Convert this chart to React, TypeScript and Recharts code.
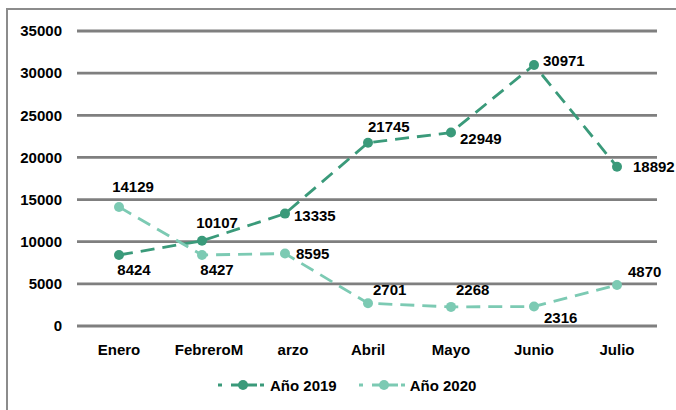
import React from 'react';
import { LineChart, Line, XAxis, YAxis, CartesianGrid, Legend, LabelList } from 'recharts';

const months = ['Enero', 'FebreroM', 'arzo', 'Abril', 'Mayo', 'Junio', 'Julio'];
const y2019 = [8424, 10107, 13335, 21745, 22949, 30971, 18892];
const y2020 = [14129, 8427, 8595, 2701, 2268, 2316, 4870];
const yTicks = [0, 5000, 10000, 15000, 20000, 25000, 30000, 35000];
const seriesNames = ['Año 2019', 'Año 2020'];

const data = months.map((m, i) => ({ month: m, a: y2019[i], b: y2020[i] }));

const C2019 = '#3a9a7a';
const C2020 = '#7ccab3';
const FONT = '"Liberation Sans", Arial, Helvetica, sans-serif';

// label placement style: [dx, dy, anchor]
const place2019: [number, number, string][] = [
  [15, 15, 'middle'], [15, -18, 'middle'], [9, 2, 'start'], [0, -16, 'start'],
  [9, 6, 'start'], [9, -4, 'start'], [16, 0, 'start'],
];
const place2020: [number, number, string][] = [
  [14, -20, 'middle'], [15, 15, 'middle'], [11, 0, 'start'], [5, -14, 'start'],
  [5, -17, 'start'], [10, 11, 'start'], [11, -13, 'start'],
];
const tickShift = [0, 7, 8, 0, 0, 0, 0];

const makeLabel = (place: [number, number, string][]) => (props: any) => {
  const { x, y, value, index } = props;
  const p = place[index] || [0, -12, 'middle'];
  return (
    <text x={x + p[0]} y={y + p[1]} textAnchor={p[2] as any} dominantBaseline="central"
      fontFamily={FONT} fontSize={15} fontWeight={700} fill="#000">
      {value}
    </text>
  );
};

const XTick = (props: any) => {
  const { x, y, payload, index } = props;
  return (
    <text x={x + (tickShift[index] || 0)} y={y + 23} textAnchor="middle" dominantBaseline="central"
      fontFamily={FONT} fontSize={15} fontWeight={700} fill="#000">
      {payload.value}
    </text>
  );
};

const LegendIcon = ({ color }: { color: string }) => (
  <svg width={46} height={12} style={{ display: 'block' }}>
    <line x1={0} y1={6} x2={46} y2={6} stroke={color} strokeWidth={3} strokeDasharray="4 9 26 3 4" />
    <circle cx={25} cy={6} r={5} fill={color} />
  </svg>
);

const renderLegend = () => (
  <div style={{ display: 'flex', alignItems: 'center', height: 24, paddingLeft: 218, fontFamily: FONT, fontSize: 15, fontWeight: 700, color: '#000' }}>
    <LegendIcon color={C2019} />
    <span style={{ marginLeft: 6, marginRight: 22 }}>{seriesNames[0]}</span>
    <LegendIcon color={C2020} />
    <span style={{ marginLeft: 5 }}>{seriesNames[1]}</span>
  </div>
);

export default function App() {
  return (
    <div style={{ position: 'absolute', left: 0, top: 0, width: 676, height: 410, overflow: 'hidden', background: '#fff' }}>
      <div style={{ position: 'absolute', left: 6, top: 8, width: 700, height: 430, border: '2px solid #8c8c8c', boxSizing: 'border-box' }} />
      <div style={{ position: 'absolute', left: 0, top: 0 }}>
        <LineChart width={676} height={410} data={data} margin={{ top: 31, right: 19, left: 0, bottom: 13 }}>
          <CartesianGrid horizontal vertical={false} stroke="#7f7f7f" strokeWidth={2.8} />
          <XAxis dataKey="month" axisLine={false} tickLine={false} tickSize={0} tickMargin={0} height={47} tick={<XTick />} interval={0}
            padding={{ left: 42, right: 40 }} />
          <YAxis domain={[0, 35000]} ticks={yTicks} axisLine={false} tickLine={false} tickSize={0} tickMargin={15} width={77}
            tick={{ fill: '#000', fontSize: 15, fontWeight: 700, fontFamily: FONT }} />
          <Legend verticalAlign="bottom" content={renderLegend} />
          <Line dataKey="a" name={seriesNames[0]} stroke={C2019} strokeWidth={2.8} strokeDasharray="14 8"
            dot={{ r: 5, fill: C2019, stroke: 'none' }} activeDot={false} isAnimationActive={false}>
            <LabelList dataKey="a" content={makeLabel(place2019)} />
          </Line>
          <Line dataKey="b" name={seriesNames[1]} stroke={C2020} strokeWidth={2.8} strokeDasharray="14 8"
            dot={{ r: 5, fill: C2020, stroke: 'none' }} activeDot={false} isAnimationActive={false}>
            <LabelList dataKey="b" content={makeLabel(place2020)} />
          </Line>
        </LineChart>
      </div>
    </div>
  );
}
